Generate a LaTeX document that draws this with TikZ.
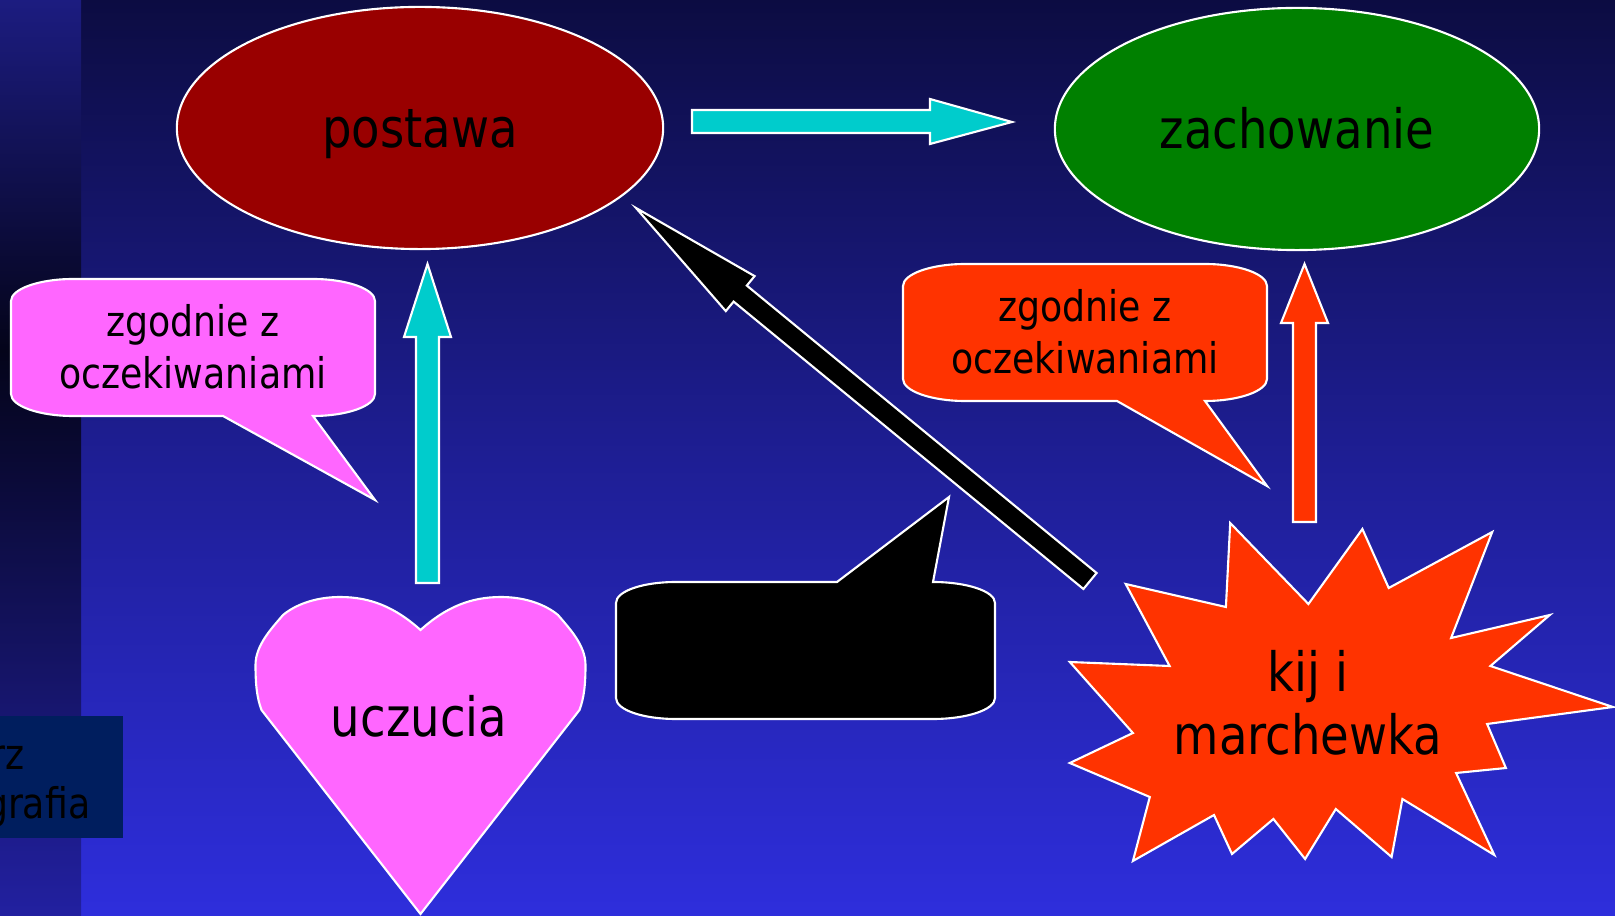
\documentclass[tikz,border=0pt]{standalone}
\usepackage{fontspec}
\newfontfamily\slidefont{DejaVu Sans}[FakeStretch=0.86]
\usetikzlibrary{shapes.geometric}
\definecolor{bgtop}{HTML}{0C0C42}
\definecolor{bgmid}{HTML}{1E1E94}
\definecolor{bgbot}{HTML}{2E2EDC}
\definecolor{striptop}{HTML}{1C1C80}
\definecolor{stripmid}{HTML}{04041A}
\definecolor{stripbot}{HTML}{2220A0}
\definecolor{boxc}{HTML}{001E5E}
\definecolor{postc}{HTML}{990000}
\definecolor{zachc}{HTML}{008000}
\definecolor{cyanc}{HTML}{00CCCC}
\definecolor{orangec}{HTML}{FF3300}
\definecolor{pinkc}{HTML}{FF66FF}
\begin{document}
\begin{tikzpicture}[x=0.01cm,y=-0.01cm,
  shapeline/.style={draw=white, line width=0.6pt, line join=miter},
  bigtext/.style={font=\slidefont\fontsize{15.4pt}{17.9pt}\selectfont, text=black, inner sep=0pt, align=center},
  smalltext/.style={font=\slidefont\fontsize{12pt}{14.8pt}\selectfont, text=black, inner sep=0pt, align=center}]
\useasboundingbox (0,0) rectangle (1615,916);
% background
\shade[top color=bgtop, bottom color=bgmid] (0,0) rectangle (1615,458.5);
\shade[top color=bgmid, bottom color=bgbot] (0,458) rectangle (1615,916);
% left strip
\shade[top color=striptop, bottom color=stripmid] (0,0) rectangle (81,350.5);
\shade[top color=stripmid, bottom color=stripbot] (0,350) rectangle (81,916);
% bottom-left box
\fill[boxc] (0,716) rectangle (123,838);
\node[smalltext, anchor=base east] (boxA) at (25,769) {rz};
\node[smalltext, anchor=base east] (boxB) at (91,818) {grafia};
% ellipses
\node[ellipse, shapeline, fill=postc, minimum width=4.86cm, minimum height=2.42cm, inner sep=0pt] (postawa) at (420,128) {};
\node[ellipse, shapeline, fill=zachc, minimum width=4.84cm, minimum height=2.42cm, inner sep=0pt] (zachowanie) at (1297,129) {};
\node[bigtext, anchor=base] (postawaT) at (420,148) {postawa};
\node[bigtext, anchor=base] (zachowanieT) at (1297,149) {zachowanie};
% block arrows
\draw[shapeline, fill=cyanc] (692,110) -- (930,110) -- (930,99) -- (1012,122) -- (930,144) -- (930,133) -- (692,133) -- cycle;
\draw[shapeline, fill=cyanc] (416,583) -- (416,337) -- (404,337) -- (427.5,264) -- (451,337) -- (439,337) -- (439,583) -- cycle;
\draw[shapeline, fill=orangec] (1293,522) -- (1293,323) -- (1281,323) -- (1304.5,264) -- (1328,323) -- (1316,323) -- (1316,522) -- cycle;
\draw[shapeline, fill=black] (1096.6,573) -- (746.8,285.6) -- (754.6,276.1) -- (636,208) -- (725.8,311.1) -- (733.6,301.6) -- (1083.4,589) -- cycle;
% pink callout
\draw[shapeline, fill=pinkc] (11,301) .. controls (11,289) and (39,279) .. (73,279) -- (313,279) .. controls (347,279) and (375,289) .. (375,301) -- (375,394) .. controls (375,406) and (347,416) .. (313,416) -- (375,500) -- (223,416) -- (73,416) .. controls (39,416) and (11,406) .. (11,394) -- cycle;
\node[smalltext] (pinkT) at (193,347) {zgodnie z\\oczekiwaniami};
% orange callout
\draw[shapeline, fill=orangec] (903,286) .. controls (903,274) and (931,264) .. (965,264) -- (1205,264) .. controls (1239,264) and (1267,274) .. (1267,286) -- (1267,379) .. controls (1267,391) and (1239,401) .. (1205,401) -- (1267,486) -- (1117,401) -- (965,401) .. controls (931,401) and (903,391) .. (903,379) -- cycle;
\node[smalltext] (orangeT) at (1085,332) {zgodnie z\\oczekiwaniami};
% black callout
\draw[shapeline, fill=black] (616,603) .. controls (616,591) and (643,582) .. (676,582) -- (837,582) -- (949,497) -- (933,582) .. controls (966,582) and (995,591) .. (995,603) -- (995,698) .. controls (995,710) and (966,719) .. (933,719) -- (676,719) .. controls (643,719) and (616,710) .. (616,698) -- cycle;
% heart
\draw[shapeline, fill=pinkc] (420.5,914) -- (261.5,710) .. controls (257,698) and (255.5,685) .. (255.5,665) .. controls (255.5,645) and (272,628) .. (283,615) .. controls (295,605) and (315,597) .. (340,597) .. controls (370,597) and (395,607) .. (420.5,630) .. controls (446,607) and (471,597) .. (501,597) .. controls (526,597) and (546,605) .. (558,615) .. controls (569,628) and (585.5,645) .. (585.5,665) .. controls (585.5,685) and (584,698) .. (579.5,710) -- cycle;
\node[bigtext, anchor=base] (uczuciaT) at (419,737) {uczucia};
% star
\draw[shapeline, fill=orangec] (1230.2,523) -- (1308.4,604) -- (1362.4,529) -- (1388.7,588) -- (1492.2,532) -- (1451.1,638) -- (1549.8,615) -- (1490.4,666) -- (1612.9,707) -- (1487.1,724) -- (1505.9,768) -- (1456.1,773) -- (1494.3,855) -- (1402.4,799) -- (1391.6,857) -- (1335.8,809) -- (1305.1,859) -- (1273.4,819) -- (1232.0,854) -- (1214.0,815) -- (1132.9,861) -- (1149.8,797) -- (1069.8,763) -- (1132.9,733) -- (1069.8,662) -- (1169.6,666) -- (1125.7,584) -- (1225.9,607) -- cycle;
\node[bigtext] (kijT) at (1308,703) {kij i\\marchewka};
\end{tikzpicture}
\end{document}
